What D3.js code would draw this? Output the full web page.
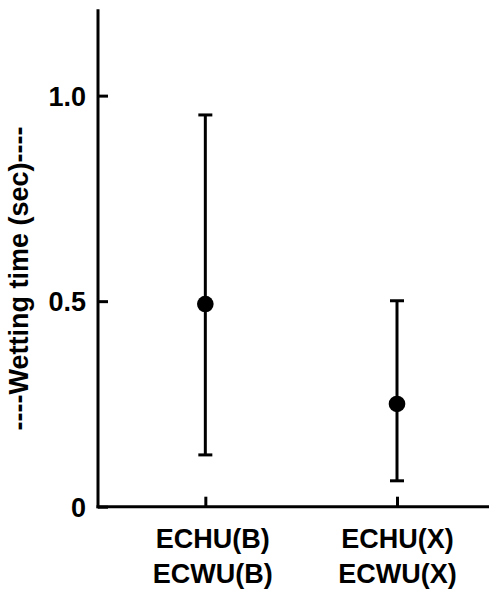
<!DOCTYPE html>
<html>
<head>
<meta charset="utf-8">
<script src="https://cdn.jsdelivr.net/npm/d3@7"></script>
<style>
  body { margin: 0; background: #fff; }
  svg { display: block; font-family: "Liberation Sans", Arial, sans-serif; font-weight: bold; }
</style>
</head>
<body>
<svg id="chart" width="489" height="589"></svg>
<script>
'use strict';

// data
const categories = [['ECHU(B)', 'ECWU(B)'], ['ECHU(X)', 'ECWU(X)']];
const means = [0.493, 0.250];
const upper = [0.953, 0.501];
const lower = [0.126, 0.063];
const yTicks = [0, 0.5, 1.0];

const svg = d3.select('#chart');
const width = +svg.attr('width');
const fontSize = 27;

const padLeft = 98, axisBottomY = 506.7, axisTopY = 9.3;

const y = d3.scaleLinear().domain([0, 1.21]).range([axisBottomY, axisTopY]);
// category index -> x position, axis runs across to the right edge
const x = d3.scaleLinear().domain([-0.56, 1.48]).range([padLeft, width]);

const points = means.map((m, i) => ({ i, m, hi: upper[i], lo: lower[i] }));

// y axis
const yAxis = svg.append('g')
  .attr('transform', `translate(${padLeft},0)`)
  .call(d3.axisLeft(y)
    .tickValues(yTicks)
    .tickSize(-10)
    .tickPadding(12)
    .tickFormat(d => d === 0 ? '0' : d3.format('.1f')(d)));

// x axis
const xAxis = svg.append('g')
  .attr('transform', `translate(0,${axisBottomY})`)
  .call(d3.axisBottom(x)
    .tickValues(points.map(p => p.i))
    .tickSize(-10)
    .tickSizeOuter(0)
    .tickFormat(''));

[yAxis, xAxis].forEach(a => {
  a.selectAll('path.domain').attr('stroke', '#000').attr('stroke-width', 3);
  a.selectAll('.tick line').attr('stroke', '#000').attr('stroke-width', 3);
});
yAxis.select('path.domain').attr('d', `M0,${axisTopY}V${axisBottomY + 1.5}`);
xAxis.select('path.domain').attr('d', `M${padLeft - 1.5},0H${width}`);

yAxis.selectAll('.tick text')
  .attr('font-size', fontSize)
  .attr('font-family', '"Liberation Sans", Arial, sans-serif')
  .attr('font-weight', 'bold')
  .attr('fill', '#000')
  .attr('dy', '0.35em');

// two-line category labels
xAxis.selectAll('.tick text').remove();
xAxis.selectAll('.tick')
  .append('text')
  .attr('text-anchor', 'middle')
  .attr('font-size', fontSize)
  .attr('fill', '#000')
  .selectAll('tspan')
  .data(d => categories[d])
  .join('tspan')
    .attr('x', (d, k, n) => n[0].parentNode.__data__ === 0 ? 7 : 0)
    .attr('y', (d, k) => 41 + k * 35)
    .text(d => d);

// error bars
const bars = svg.append('g');
bars.selectAll('line.err')
  .data(points)
  .join('line')
    .attr('class', 'err')
    .attr('x1', d => x(d.i)).attr('x2', d => x(d.i))
    .attr('y1', d => y(d.lo)).attr('y2', d => y(d.hi))
    .attr('stroke', '#000').attr('stroke-width', 3);

bars.selectAll('line.cap')
  .data(points.flatMap(p => [{ i: p.i, v: p.hi }, { i: p.i, v: p.lo }]))
  .join('line')
    .attr('class', 'cap')
    .attr('x1', d => x(d.i) - 7).attr('x2', d => x(d.i) + 7)
    .attr('y1', d => y(d.v)).attr('y2', d => y(d.v))
    .attr('stroke', '#000').attr('stroke-width', 3);

bars.selectAll('circle')
  .data(points)
  .join('circle')
    .attr('cx', d => x(d.i))
    .attr('cy', d => y(d.m))
    .attr('r', 8.3)
    .attr('fill', '#000');

// y label
svg.append('text')
  .attr('transform', 'translate(28,278.5) rotate(-90)')
  .attr('text-anchor', 'middle')
  .attr('font-size', fontSize)
  .attr('fill', '#000')
  .text('----Wetting time (sec)----');
</script>
</body>
</html>
